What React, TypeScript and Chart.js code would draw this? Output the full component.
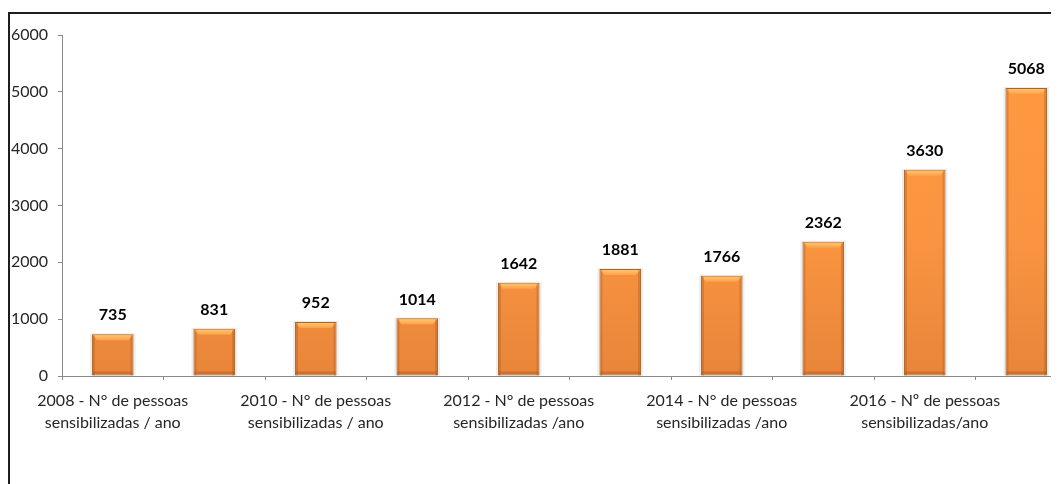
import React, { useEffect, useRef } from "react";
import { Chart, registerables } from "chart.js";

Chart.register(...registerables);

const years = ["2008", "2009", "2010", "2011", "2012", "2013", "2014", "2015", "2016", "2017"];
const labelLine1 = [
  "2008 - N° de pessoas",
  "2009 - N° de pessoas",
  "2010 - N° de pessoas",
  "2011 - N° de pessoas",
  "2012 - N° de pessoas",
  "2013 - N° de pessoas",
  "2014 - N° de pessoas",
  "2015 - N° de pessoas",
  "2016 - Nº de pessoas",
  "2017 - Nº de pessoas",
];
const labelLine2 = [
  "sensibilizadas / ano",
  "sensibilizadas / ano",
  "sensibilizadas / ano",
  "sensibilizadas / ano",
  "sensibilizadas /ano",
  "sensibilizadas /ano",
  "sensibilizadas /ano",
  "sensibilizadas /ano",
  "sensibilizadas/ano",
  "sensibilizadas/ano",
];
const values = [735, 831, 952, 1014, 1642, 1881, 1766, 2362, 3630, 5068];
const yTicks = [0, 1000, 2000, 3000, 4000, 5000, 6000];

const FONT = "Lato, 'Open Sans', sans-serif";

const barDecor = {
  id: "barDecor",
  beforeDatasetsDraw(chart: any) {
    const ctx = chart.ctx;
    const meta = chart.getDatasetMeta(0);
    ctx.save();
    meta.data.forEach((bar: any) => {
      const left = bar.x - bar.width / 2;
      const top = bar.y;
      const h = bar.base - bar.y;
      ctx.fillStyle = "rgba(0,0,0,0.07)";
      ctx.fillRect(left - 2, top - 1, bar.width + 4, h + 1);
    });
    ctx.restore();
  },
  afterDatasetsDraw(chart: any) {
    const ctx = chart.ctx;
    const meta = chart.getDatasetMeta(0);
    ctx.save();
    meta.data.forEach((bar: any, i: number) => {
      const left = bar.x - bar.width / 2;
      const right = bar.x + bar.width / 2;
      const top = bar.y;
      const bottom = bar.base;
      const g = ctx.createLinearGradient(0, top, 0, top + 6);
      g.addColorStop(0, "#FFCB80");
      g.addColorStop(1, "#FFA244");
      ctx.fillStyle = g;
      ctx.beginPath();
      ctx.moveTo(left + 1, top + 1);
      ctx.lineTo(right - 1, top + 1);
      ctx.lineTo(right - 5, top + 6);
      ctx.lineTo(left + 5, top + 6);
      ctx.closePath();
      ctx.fill();
      ctx.fillStyle = "rgba(160,80,20,0.3)";
      ctx.fillRect(left + 1, top + 1, 2, bottom - top - 1);
      ctx.fillRect(right - 3, top + 1, 2, bottom - top - 1);
      ctx.fillStyle = "rgba(150,70,15,0.3)";
      ctx.fillRect(left + 1, bottom - 4, right - left - 2, 3);
      ctx.fillStyle = "#000";
      ctx.font = `bold 16px ${FONT}`;
      ctx.textAlign = "center";
      ctx.textBaseline = "middle";
      ctx.fillText(String(values[i]), bar.x, top - 19);
    });
    ctx.restore();
  },
};

export default function App() {
  const canvasRef = useRef<HTMLCanvasElement | null>(null);

  useEffect(() => {
    document.body.style.overflow = "hidden";
    const canvas = canvasRef.current;
    if (!canvas) return;
    const chart = new Chart(canvas, {
      type: "bar",
      data: {
        labels: years.map((_, i) => [labelLine1[i], labelLine2[i]]),
        datasets: [
          {
            data: values,
            backgroundColor: (c: any) => {
              const area = c.chart.chartArea;
              if (!area) return "#F79646";
              const g = c.chart.ctx.createLinearGradient(0, area.top, 0, area.bottom);
              g.addColorStop(0, "#FF9A42");
              g.addColorStop(0.6, "#FA9440");
              g.addColorStop(1, "#E8853A");
              return g;
            },
            borderColor: "#A8652A",
            borderWidth: 1,
            borderSkipped: false,
            categoryPercentage: 0.41,
            barPercentage: 1,
          },
        ],
      },
      options: {
        animation: false,
        responsive: true,
        maintainAspectRatio: false,
        layout: { padding: { top: 27, left: 0, right: 31, bottom: 0 } },
        plugins: {
          legend: { display: false },
          tooltip: { enabled: false },
        },
        scales: {
          x: {
            offset: true,
            grid: {
              display: true,
              offset: true,
              drawOnChartArea: false,
              drawTicks: true,
              tickLength: 4,
              color: "#8a8a8a",
            },
            border: { display: true, color: "#8a8a8a", width: 1 },
            ticks: {
              autoSkip: false,
              maxRotation: 0,
              minRotation: 0,
              padding: 10,
              color: "#262626",
              font: { family: FONT, size: 16, lineHeight: 1.375 },
              callback: (_v: any, i: number) =>
                i % 2 === 0 ? [labelLine1[i], labelLine2[i]] : "",
            },
            afterFit: (s: any) => {
              s.height = 108;
            },
          },
          y: {
            min: 0,
            max: 6000,
            afterBuildTicks: (s: any) => {
              s.ticks = yTicks.map((v) => ({ value: v }));
            },
            grid: {
              display: true,
              drawOnChartArea: false,
              drawTicks: true,
              tickLength: 4,
              color: "#8a8a8a",
            },
            border: { display: true, color: "#8a8a8a", width: 1 },
            ticks: {
              padding: 10,
              color: "#262626",
              font: { family: FONT, size: 16 },
              callback: (v: any) => String(v),
            },
            afterFit: (s: any) => {
              s.width = 54;
            },
          },
        },
      },
      plugins: [barDecor],
    });
    return () => chart.destroy();
  }, []);

  return (
    <div style={{ position: "relative", width: 1051, height: 476, overflow: "hidden" }}>
      <div
        style={{
          position: "absolute",
          left: 0,
          top: 4,
          width: 2000,
          height: 1000,
          borderLeft: "2px solid #1e1e1e",
          borderTop: "2px solid #1e1e1e",
        }}
      />
      <div style={{ position: "absolute", left: 0, top: 0, width: 1100, height: 476 }}>
        <canvas ref={canvasRef} />
      </div>
    </div>
  );
}
